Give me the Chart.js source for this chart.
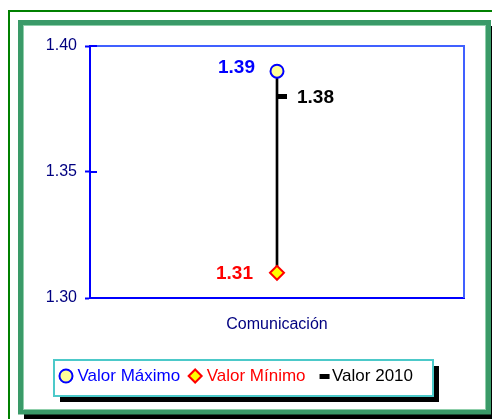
<!DOCTYPE html>
<html>
<head>
<meta charset="utf-8">
<script src="https://cdn.jsdelivr.net/npm/chart.js@4/dist/chart.umd.min.js"></script>
<style>
  html, body { margin: 0; padding: 0; background: #fff; overflow: hidden; }
  canvas { display: block; }
</style>
</head>
<body>
<canvas id="chart" width="492" height="419"></canvas>
<script>
const categories = ['Comunicación'];
const valorMaximo = [1.39];
const valorMinimo = [1.31];
const valor2010 = [1.38];
const yTicks = [1.30, 1.35, 1.40];
const seriesNames = ['Valor Máximo', 'Valor Mínimo', 'Valor 2010'];

const FONT = '"Liberation Sans", Arial, sans-serif';
const NAVY = '#000080';

// dash marker sitting on the right of the high-low line
function dashImage(w, h, x0, len) {
  const c = document.createElement('canvas');
  c.width = w; c.height = h;
  const g = c.getContext('2d');
  g.fillStyle = '#000';
  g.fillRect(x0, 0, len, h);
  return c;
}
const chartDash = dashImage(22, 5, 11, 10);
const legendDash = dashImage(20, 5, 9, 10);

const labelColors = ['#0000ff', '#ff0000', '#000000'];

const framePlugin = {
  id: 'frames',
  beforeDraw(chart) {
    const ctx = chart.ctx;
    ctx.save();
    ctx.fillStyle = '#fff';
    ctx.fillRect(0, 0, chart.width, chart.height);
    // thin outer green line
    ctx.fillStyle = '#008000';
    ctx.fillRect(8, 10, chart.width, 2);
    ctx.fillRect(8, 10, 2, chart.height);
    // shadow + thick frame
    ctx.fillStyle = '#000';
    ctx.fillRect(24, 26, 480, 400);
    ctx.fillStyle = '#3a9a68';
    ctx.fillRect(18, 20, 473, 394.5);
    ctx.fillStyle = '#8fcfab';
    ctx.fillRect(23, 25, 463, 385);
    ctx.fillStyle = '#fff';
    ctx.fillRect(24, 26, 461, 383);

    // legend box
    const hb = chart.legend.legendHitBoxes;
    if (hb && hb.length) {
      const first = hb[0], last = hb[hb.length - 1];
      const cy = first.top + first.height / 2;
      const x = first.left - 9;
      const w = last.left + last.width + 20 - x;
      const y = cy - 16, h = 36;
      ctx.fillStyle = '#000';
      ctx.fillRect(x + 6, y + 6, w, h);
      ctx.fillStyle = '#fff';
      ctx.fillRect(x, y, w, h);
      ctx.strokeStyle = '#4cc9c9';
      ctx.lineWidth = 2;
      ctx.strokeRect(x, y, w, h);
    }
    ctx.restore();
  },
  beforeDatasetsDraw(chart) {
    const ctx = chart.ctx;
    const a = chart.chartArea;
    const ys = chart.scales.y;
    ctx.save();
    ctx.strokeStyle = '#4060ff';
    ctx.lineWidth = 2;
    ctx.beginPath();
    ctx.moveTo(a.left, a.top);
    ctx.lineTo(a.right, a.top);
    ctx.lineTo(a.right, a.bottom);
    ctx.stroke();
    // inner half of the crossing tick marks
    ctx.strokeStyle = '#0000ff';
    ctx.beginPath();
    ys.ticks.forEach(function (t, i) {
      const py = ys.getPixelForTick(i);
      ctx.moveTo(a.left, py);
      ctx.lineTo(a.left + 7, py);
    });
    ctx.stroke();
    ctx.restore();
  },
  afterDatasetsDraw(chart) {
    const ctx = chart.ctx;
    const offsets = [
      { dx: -22, dy: -3, align: 'right' },
      { dx: -24, dy: 1, align: 'right' },
      { dx: 20, dy: 1, align: 'left' },
    ];
    ctx.save();
    ctx.font = 'bold 19px ' + FONT;
    ctx.textBaseline = 'middle';
    [0, 1, 2].forEach(function (di) {
      const meta = chart.getDatasetMeta(di);
      const vals = chart.data.datasets[di].data;
      meta.data.forEach(function (pt, i) {
        const o = offsets[di];
        ctx.fillStyle = labelColors[di];
        ctx.textAlign = o.align;
        ctx.fillText(vals[i].toFixed(2), pt.x + o.dx, pt.y + o.dy);
      });
    });
    ctx.restore();
  }
};

const highLow = categories.map(function (c, i) { return [valorMinimo[i], valorMaximo[i]]; });

new Chart(document.getElementById('chart'), {
  data: {
    labels: categories,
    datasets: [
      {
        type: 'line', label: seriesNames[0], data: valorMaximo, order: 1, showLine: false,
        pointStyle: 'circle', pointRadius: 6.5, pointBackgroundColor: '#ffff99',
        pointBorderColor: '#0000ff', pointBorderWidth: 2,
        backgroundColor: '#ffff99', borderColor: '#0000ff',
      },
      {
        type: 'line', label: seriesNames[1], data: valorMinimo, order: 2, showLine: false,
        pointStyle: 'rectRot', pointRadius: 7, pointBackgroundColor: '#ffff00',
        pointBorderColor: '#ff0000', pointBorderWidth: 2,
        backgroundColor: '#ffff00', borderColor: '#ff0000',
      },
      {
        type: 'line', label: seriesNames[2], data: valor2010, order: 3, showLine: false,
        pointStyle: chartDash, pointRadius: 5, pointBorderWidth: 0,
        backgroundColor: '#000', borderColor: '#000',
      },
      {
        type: 'bar', label: 'hl', data: highLow, order: 4,
        backgroundColor: '#000', borderWidth: 0, barThickness: 2,
      },
    ],
  },
  options: {
    responsive: false,
    animation: false,
    layout: { padding: { left: 12, right: 28, top: 46, bottom: 24.5 } },
    plugins: {
      tooltip: { enabled: false },
      legend: {
        position: 'bottom',
        labels: {
          usePointStyle: true,
          boxWidth: 6,
          boxHeight: 9.2,
          padding: 12,
          font: { family: FONT, size: 17 },
          filter: function (item) { return item.datasetIndex < 3; },
          generateLabels: function (chart) {
            const items = Chart.defaults.plugins.legend.labels.generateLabels(chart);
            items.forEach(function (it) {
              if (it.datasetIndex < 3) it.fontColor = labelColors[it.datasetIndex];
              if (it.datasetIndex === 2) { it.pointStyle = legendDash; }
            });
            return items;
          },
        },
      },
    },
    scales: {
      x: {
        grid: { display: false, drawTicks: false },
        border: { color: '#0000ff', width: 2 },
        ticks: { color: NAVY, font: { family: FONT, size: 16 }, padding: 17 },
        afterFit: function (s) { s.height = 57.5; },
      },
      y: {
        min: yTicks[0],
        max: yTicks[yTicks.length - 1],
        afterBuildTicks: function (s) { s.ticks = yTicks.map(function (v) { return { value: v }; }); },
        grid: { display: true, drawOnChartArea: false, drawTicks: true, tickLength: 5, tickColor: '#0000ff', tickWidth: 2 },
        border: { color: '#0000ff', width: 2 },
        ticks: {
          color: NAVY, font: { family: FONT, size: 16 }, padding: 8,
          callback: function (v) { return Number(v).toFixed(2); },
        },
        afterFit: function (s) { s.width = 78; },
      },
    },
  },
  plugins: [framePlugin],
});
</script>
</body>
</html>
